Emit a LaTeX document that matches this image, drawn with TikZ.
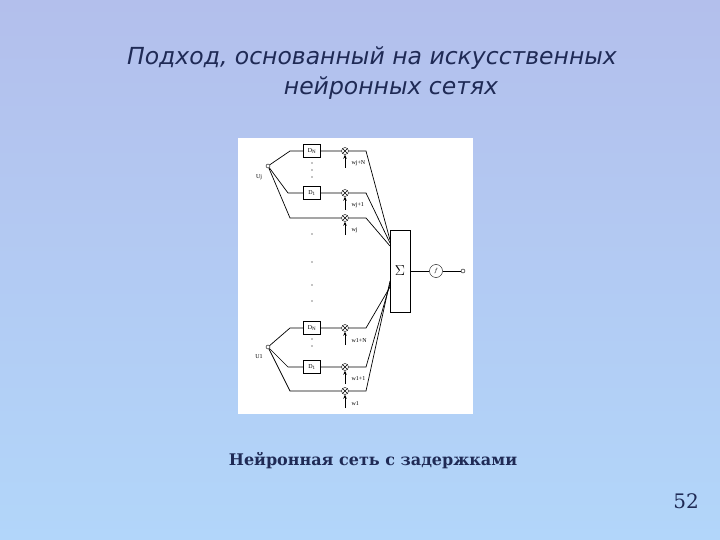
\documentclass[tikz,border=0pt]{standalone}
\usepackage{fontspec}
\setmainfont{Liberation Serif}
\newfontfamily\titlefont{DejaVu Sans}
\newfontfamily\capfont{DejaVu Serif}
\usetikzlibrary{arrows.meta}
\definecolor{titlec}{HTML}{1F2A55}
\definecolor{bgtop}{HTML}{B3BFEC}
\definecolor{bgbot}{HTML}{B2D6FA}
\begin{document}
\begin{tikzpicture}[x=1pt,y=-1pt,
  dl/.style={draw,fill=white,minimum width=17pt,minimum height=13pt,inner sep=0pt,font=\fontsize{6}{6}\selectfont},
  mul/.style={draw,circle,minimum size=7pt,inner sep=0pt,path picture={\draw (path picture bounding box.south west)--(path picture bounding box.north east) (path picture bounding box.north west)--(path picture bounding box.south east);}},
  port/.style={draw,circle,fill=white,minimum size=4pt,inner sep=0pt},
  wl/.style={font=\fontsize{6}{6}\selectfont,anchor=west},
  ln/.style={line width=0.7pt},
  arr/.style={line width=1pt,-{Stealth[length=4pt,width=3.5pt]}}]
\fill[top color=bgtop,bottom color=bgbot] (0,0) rectangle (720,540);
\useasboundingbox (0,0) rectangle (720,540);
\node[font=\titlefont\itshape\fontsize{23.5}{26}\selectfont,text=titlec] (t1) at (372,58) {Подход, основанный на искусственных};
\node[font=\titlefont\itshape\fontsize{23.5}{26}\selectfont,text=titlec] (t2) at (391,88) {нейронных сетях};
\fill[white] (238,138) rectangle (473,414);
% upper group
\node[port] (uj) at (268,166) {};
\node[font=\fontsize{6}{6}\selectfont] (ujl) at (259,177) {Uj};
\node[dl] (dn1) at (312,151) {D\textsubscript{N}};
\node[dl] (d11) at (312,193) {D\textsubscript{1}};
\node[mul] (m1) at (345,151) {};
\node[mul] (m2) at (345,193) {};
\node[mul] (m3) at (345,218) {};
% lower group
\node[port] (u1) at (268,347) {};
\node[font=\fontsize{6}{6}\selectfont] (u1l) at (259,357) {U1};
\node[dl] (dn2) at (312,328) {D\textsubscript{N}};
\node[dl] (d12) at (312,367) {D\textsubscript{1}};
\node[mul] (m4) at (345,328) {};
\node[mul] (m5) at (345,367) {};
\node[mul] (m6) at (345,391) {};
% sigma
\node[draw,fill=white,minimum width=20pt,minimum height=82pt,inner sep=0pt,font=\Large] (sg) at (400,271) {$\Sigma$};
\node[draw,circle,minimum size=13pt,inner sep=0pt,font=\fontsize{6}{6}\selectfont] (f) at (436,271) {$f$};
\node[port] (o) at (463,271) {};
\draw[ln] (sg) -- (f) -- (o);
% input lines
\draw[ln] (uj) -- (290,151) -- (dn1) -- (m1);
\draw[ln] (uj) -- (288,193) -- (d11) -- (m2);
\draw[ln] (uj) -- (290,218) -- (m3);
\draw[ln] (u1) -- (290,328) -- (dn2) -- (m4);
\draw[ln] (u1) -- (288,367) -- (d12) -- (m5);
\draw[ln] (u1) -- (290,391) -- (m6);
% to sigma
\draw[ln] (m1) -- (366,151) -- (390,240);
\draw[ln] (m2) -- (366,193) -- (390,243);
\draw[ln] (m3) -- (366,218) -- (390,246);
\draw[ln] (m4) -- (366,328) -- (390,287);
\draw[ln] (m5) -- (366,367) -- (390,284);
\draw[ln] (m6) -- (366,391) -- (390,281);
% weights
\coordinate (w1) at (345,168); \coordinate (w2) at (345,210); \coordinate (w3) at (345,235);
\coordinate (w4) at (345,345); \coordinate (w5) at (345,384); \coordinate (w6) at (345,408);
\draw[arr] (w1) -- (m1); \draw[arr] (w2) -- (m2); \draw[arr] (w3) -- (m3);
\draw[arr] (w4) -- (m4); \draw[arr] (w5) -- (m5); \draw[arr] (w6) -- (m6);
\node[wl] (l1) at (348,163) {wj+N};
\node[wl] (l2) at (348,205) {wj+1};
\node[wl] (l3) at (348,230) {wj};
\node[wl] (l4) at (348,341) {w1+N};
\node[wl] (l5) at (348,379) {w1+1};
\node[wl] (l6) at (348,404) {w1};
% dots
\foreach \yy in {163,170,177,234,262,285,301,339,346} \fill (312,\yy) circle (0.7);
\node[font=\capfont\bfseries\fontsize{16}{18}\selectfont,text=titlec] (cap) at (373,461) {Нейронная сеть с задержками};
\node[font=\capfont\fontsize{20}{24}\selectfont,text=titlec] (pg) at (686,501) {52};
\end{tikzpicture}
\end{document}
